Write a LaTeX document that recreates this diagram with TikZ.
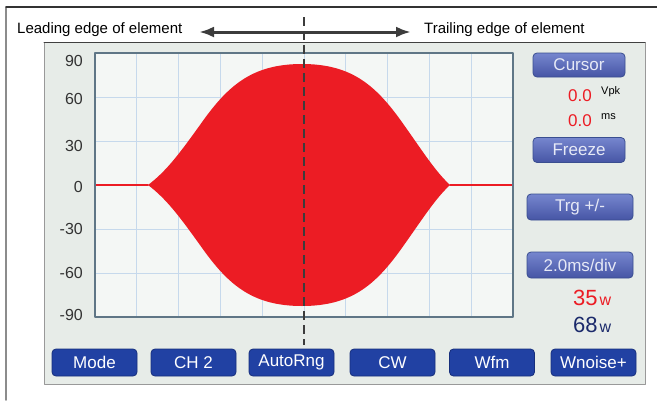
\documentclass[tikz,border=0pt]{standalone}
\usepackage{fontspec}
\setmainfont{Liberation Sans}
\usepackage{tikz}
\usetikzlibrary{arrows.meta,calc}
\definecolor{sigred}{HTML}{EC1C24}
\definecolor{panelbg}{HTML}{E7ECE8}
\definecolor{plotbg}{HTML}{F4F7F5}
\definecolor{gridblue}{HTML}{C6D9EC}
\definecolor{plotedge}{HTML}{5F7686}
\definecolor{barblue}{HTML}{2141A3}
\definecolor{barline}{HTML}{172F7C}
\definecolor{sidetop}{HTML}{7686CE}
\definecolor{sidebot}{HTML}{4655A5}
\definecolor{navytxt}{HTML}{1B2A6B}
\definecolor{arrowgray}{HTML}{3C3C3C}
\tikzset{
  barbtn/.style={draw=barline,line width=0.8pt,fill=barblue,rounded corners=4pt,
    minimum width=85pt,minimum height=27pt,inner sep=0pt,text=white,
    font=\fontsize{17}{17}\selectfont},
  sidebtn/.style={draw=barline!85,line width=0.8pt,top color=sidetop,bottom color=sidebot,
    rounded corners=4pt,inner sep=0pt,text=white!82!sidetop,
    font=\fontsize{17}{17}\selectfont},
  ylab/.style={anchor=east,inner sep=0pt,text=black!80,font=\fontsize{16}{16}\selectfont},
  headtext/.style={anchor=west,inner sep=0pt,font=\fontsize{15}{15}\selectfont}
}
\begin{document}
\begin{tikzpicture}[x=1pt,y=-1pt,line cap=round,line join=round]
  \useasboundingbox (0,0) rectangle (657,400);
  % outer frame
  \draw[black!45,line width=1.6pt] (6,7) -- (6,400);
  \draw[black!80,line width=1.1pt] (6,7) -- (657,7);
  % screen panel
  \fill[panelbg] (44,42) rectangle (645,384);
  \draw[black!40,line width=0.9pt] (44,42) rectangle (645,384);
  \draw[black!75,line width=1pt] (44,42) -- (645,42);
  % plot area
  \fill[plotbg] (95,53) rectangle (513,317);
  \foreach \k in {1,...,9}
    \draw[gridblue,line width=0.8pt] ({95+41.8*\k},53) -- ({95+41.8*\k},317);
  \foreach \k in {1,...,5}
    \draw[gridblue,line width=0.8pt] (95,{53+44*\k}) -- (513,{53+44*\k});
  % signal
  \draw[sigred,line width=1.8pt] (95,185) -- (148,185);
  \draw[sigred,line width=1.8pt] (450,185) -- (513,185);
  \fill[sigred] (148,185) .. controls (168,170) and (182,150) .. (205,118)
    .. controls (230,84) and (254,64) .. (302,64)
    .. controls (350,64) and (374,84) .. (399,118)
    .. controls (422,150) and (434,170) .. (450,185)
    .. controls (434,200) and (422,220) .. (399,252)
    .. controls (374,286) and (350,306) .. (302,306)
    .. controls (254,306) and (230,286) .. (205,252)
    .. controls (182,220) and (168,200) .. (148,185) -- cycle;
  \draw[plotedge,line width=1.2pt] (95,53) rectangle (513,317);
  % y axis labels
  \foreach \v/\y in {90/61,60/99,30/146,0/187,-30/229,-60/273,-90/315}
    \node[ylab] (lab\v) at (83,\y) {\v};
  % centre line and edge arrows
  \coordinate (dtop) at (304,17);
  \coordinate (dbot) at (304,345);
  \coordinate (amid) at (304,32);
  \coordinate (ltip) at (199,32);
  \coordinate (rtip) at (411,32);
  \draw[arrowgray,line width=2pt,line cap=butt,dash pattern=on 9pt off 5pt] (dtop) -- (dbot);
  \draw[arrowgray,line width=3pt,-{Latex[length=15pt,width=11pt]}] (amid) -- (ltip);
  \draw[arrowgray,line width=3pt,-{Latex[length=15pt,width=11pt]}] (amid) -- (rtip);
  \node[headtext] (lead) at (17,30) {Leading edge of element};
  \node[headtext] (trail) at (424,30) {Trailing edge of element};
  % side controls
  \node[sidebtn,minimum width=92pt,minimum height=24pt] (cursor) at (579,65) {Cursor};
  \node[anchor=east,inner sep=0pt,text=sigred,font=\fontsize{17}{17}\selectfont] (volt) at (592,96) {0.0};
  \node[anchor=west,inner sep=0pt,font=\fontsize{11}{11}\selectfont] (vpk) at (601,92) {Vpk};
  \node[anchor=east,inner sep=0pt,text=sigred,font=\fontsize{17}{17}\selectfont] (time) at (592,121) {0.0};
  \node[anchor=west,inner sep=0pt,font=\fontsize{11}{11}\selectfont] (ms) at (601,117) {ms};
  \node[sidebtn,minimum width=92pt,minimum height=25pt] (freeze) at (579,150) {Freeze};
  \node[sidebtn,minimum width=106pt,minimum height=26pt] (trg) at (580,207) {Trg +/-};
  \node[sidebtn,minimum width=106pt,minimum height=26pt] (div) at (580,265) {2.0ms/div};
  \node[anchor=base west,inner sep=0pt,text=sigred] (fwd) at (573,305)
    {\fontsize{22}{22}\selectfont 35\hspace{2pt}\fontsize{16}{16}\selectfont w};
  \node[anchor=base west,inner sep=0pt,text=navytxt] (rev) at (573,332)
    {\fontsize{22}{22}\selectfont 68\hspace{2pt}\fontsize{16}{16}\selectfont w};
  % bottom button bar
  \node[barbtn] (mode) at (94.5,362.5) {Mode};
  \node[barbtn] (ch) at (193.5,362.5) {CH 2};
  \node[barbtn] (auto) at (291.5,362.5) {AutoRng};
  \node[barbtn] (cw) at (392.5,362.5) {CW};
  \node[barbtn] (wfm) at (492,362.5) {Wfm};
  \node[barbtn] (wnoise) at (593.5,362.5) {Wnoise+};
\end{tikzpicture}
\end{document}
